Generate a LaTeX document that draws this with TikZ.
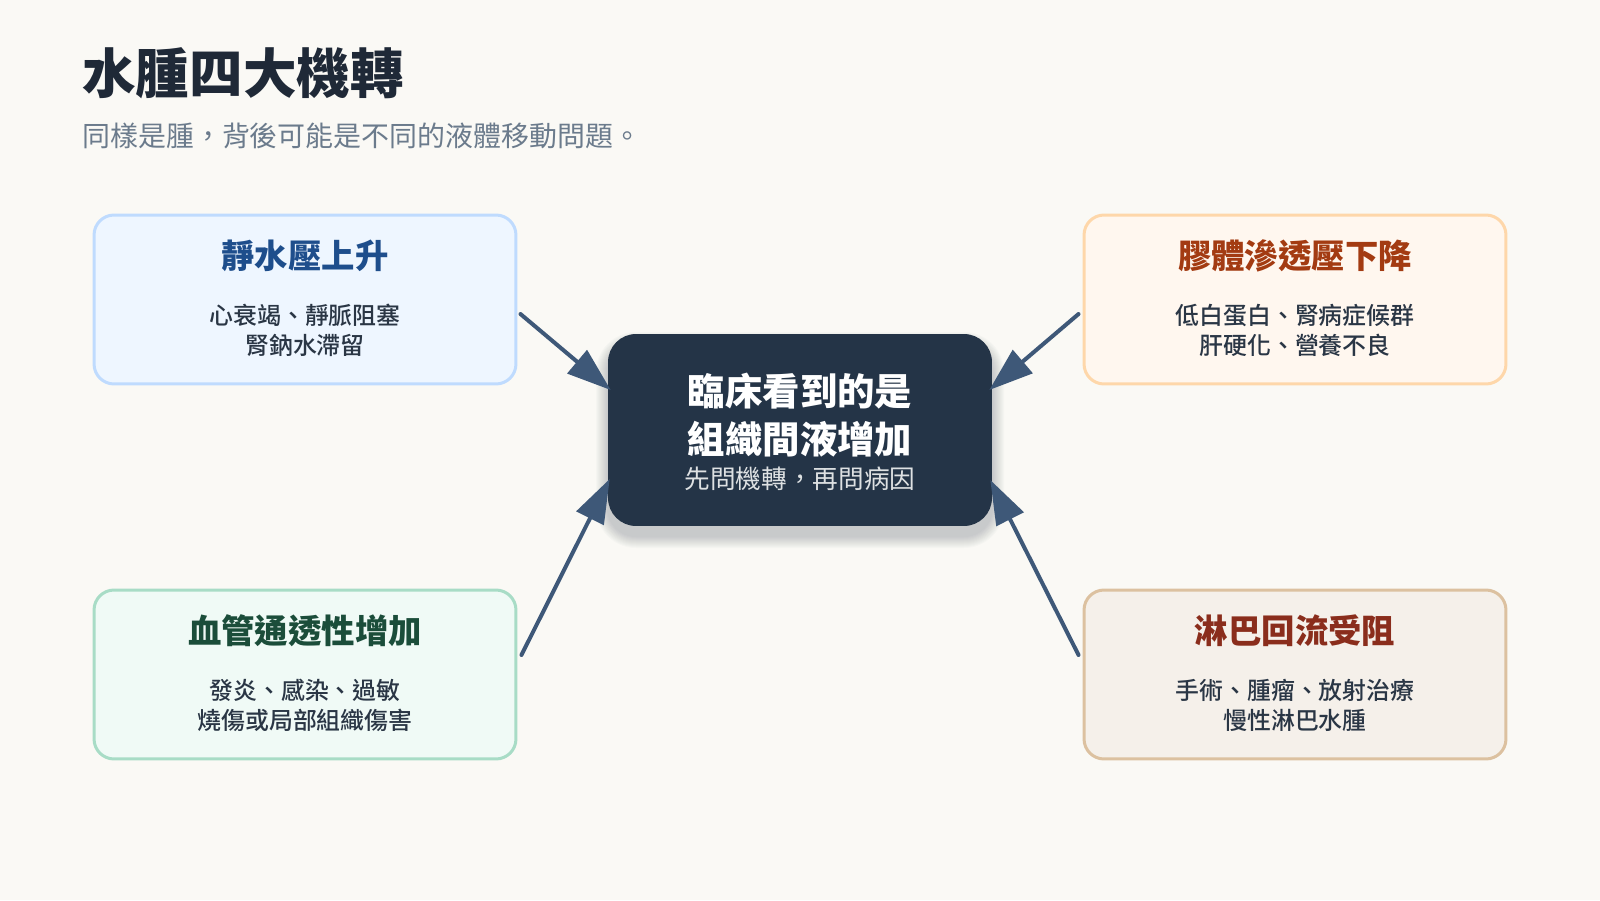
\documentclass[tikz,border=0pt]{standalone}
\usepackage{fontspec}
\setmainfont{Noto Sans CJK TC}
\newfontfamily\medfont{Noto Sans CJK TC Medium}
\usetikzlibrary{arrows.meta}

\definecolor{bgc}{HTML}{FAF9F5}
\definecolor{inkc}{HTML}{1F2937}
\definecolor{subc}{HTML}{6B7B8C}
\definecolor{bodyc}{HTML}{2A3645}
\definecolor{corec}{HTML}{243447}
\definecolor{flowc}{HTML}{3E5878}
\definecolor{bluefill}{HTML}{EEF6FF}
\definecolor{blueline}{HTML}{BFDBFE}
\definecolor{bluetext}{HTML}{1E4E8C}
\definecolor{orgfill}{HTML}{FFF7EF}
\definecolor{orgline}{HTML}{FED7AA}
\definecolor{orgtext}{HTML}{A33B12}
\definecolor{grnfill}{HTML}{F0FAF6}
\definecolor{grnline}{HTML}{A8DCC6}
\definecolor{grntext}{HTML}{1B4D3A}
\definecolor{brnfill}{HTML}{F5F0EA}
\definecolor{brnline}{HTML}{DCC1A0}
\definecolor{brntext}{HTML}{8A2D1C}

\tikzset{
  mechbox/.style={draw, line width=0.06cm, rounded corners=0.4cm,
    minimum width=8.44cm, minimum height=3.38cm, inner sep=0pt},
  mechtitle/.style={font=\bfseries\fontsize{19}{23}\selectfont, inner sep=0pt},
  mechbody/.style={font=\medfont\fontsize{13.6}{17.3}\selectfont, text=bodyc,
    align=center, inner sep=0pt},
  flow/.style={-{Triangle[length=0.88cm,width=0.6cm]}, line width=0.08cm,
    color=flowc, line cap=round}
}

\begin{document}
\begin{tikzpicture}[x=0.02cm,y=-0.02cm]
    \fill[bgc] (0,0) rectangle (1600,900);
    \useasboundingbox (0,0) rectangle (1600,900);

    % Heading
    \node[anchor=west, inner sep=0pt, text=inkc,
          font=\bfseries\fontsize{30.5}{34}\selectfont] (head) at (82,73) {水腫四大機轉};
    \node[anchor=west, inner sep=0pt, text=subc,
          font=\fontsize{15.9}{18}\selectfont] (sub) at (82,135.5)
          {同樣是腫，背後可能是不同的液體移動問題。};

    % Four mechanisms
    \node[mechbox, fill=bluefill, draw=blueline] (lt) at (305,299.5) {};
    \node[mechtitle, text=bluetext] (lt-t) at ([shift={(0,42)}]lt.north) {靜水壓上升};
    \node[mechbody] (lt-b) at ([shift={(0,117)}]lt.north) {心衰竭、靜脈阻塞\\腎鈉水滯留};

    \node[mechbox, fill=orgfill, draw=orgline] (rt) at (1295,299.5) {};
    \node[mechtitle, text=orgtext] (rt-t) at ([shift={(0,42)}]rt.north) {膠體滲透壓下降};
    \node[mechbody] (rt-b) at ([shift={(0,117)}]rt.north) {低白蛋白、腎病症候群\\肝硬化、營養不良};

    \node[mechbox, fill=grnfill, draw=grnline] (lb) at (305,674.5) {};
    \node[mechtitle, text=grntext] (lb-t) at ([shift={(0,42)}]lb.north) {血管通透性增加};
    \node[mechbody] (lb-b) at ([shift={(0,117)}]lb.north) {發炎、感染、過敏\\燒傷或局部組織傷害};

    \node[mechbox, fill=brnfill, draw=brnline] (rb) at (1295,674.5) {};
    \node[mechtitle, text=brntext] (rb-t) at ([shift={(0,42)}]rb.north) {淋巴回流受阻};
    \node[mechbody] (rb-b) at ([shift={(0,117)}]rb.north) {手術、腫瘤、放射治療\\慢性淋巴水腫};

    % Center (soft shadow first)
    \foreach \i in {1,...,12}
      \fill[corec, opacity=0.018, rounded corners={0.56cm+\i*0.02cm}]
        (608-\i,334+10-\i) rectangle (992+\i,526+10+\i);
    \node[fill=corec, rounded corners=0.56cm, minimum width=7.68cm,
          minimum height=3.84cm] (ctr) at (800,430) {};
    \node[text=white, align=center, inner sep=0pt,
          font=\bfseries\fontsize{21.3}{26.9}\selectfont] (ctr-t) at (800,415)
          {臨床看到的是\\組織間液增加};
    \node[text=white!85!corec, inner sep=0pt,
          font=\fontsize{14.6}{17}\selectfont] (ctr-s) at (800,478.5) {先問機轉，再問病因};

    % Arrows
    \draw[flow] ([shift={(3,14.5)}]lt.east) -- ([shift={(3,-40)}]ctr.west);
    \draw[flow] ([shift={(4,-19.5)}]lb.east) -- ([shift={(2,49)}]ctr.west);
    \draw[flow] ([shift={(-4,14.5)}]rt.west) -- ([shift={(-3,-40)}]ctr.east);
    \draw[flow] ([shift={(-4,-19.5)}]rb.west) -- ([shift={(-2,50)}]ctr.east);
\end{tikzpicture}
\end{document}
